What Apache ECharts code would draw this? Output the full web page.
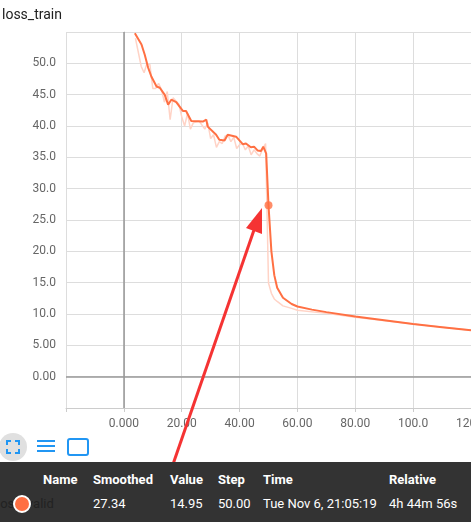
<!DOCTYPE html>
<html>
<head>
<meta charset="utf-8">
<script src="https://cdn.jsdelivr.net/npm/echarts@6/dist/echarts.min.js"></script>
<style>
  html, body { margin: 0; padding: 0; background: #fff; overflow: hidden; }
  #chart { width: 471px; height: 522px; }
  #tip { position: absolute; left: 0; top: 462px; width: 471px; height: 60px; background: #333;
         font-family: Roboto, sans-serif; font-size: 13px; color: #fff; }
  #tip span { position: absolute; }
  .h { top: 10px; font-weight: bold; }
  .v { top: 34px; }
</style>
</head>
<body>
<div id="chart"></div>
<div id="tip">
  <span class="h" style="left:43px">Name</span>
  <span class="h" style="left:93px">Smoothed</span>
  <span class="h" style="left:170px">Value</span>
  <span class="h" style="left:218px">Step</span>
  <span class="h" style="left:263px">Time</span>
  <span class="h" style="left:389px">Relative</span>
  <span class="v" style="left:-3px;color:#222">loss_valid</span>
  <span class="v" style="left:93px">27.34</span>
  <span class="v" style="left:170px">14.95</span>
  <span class="v" style="left:218px">50.00</span>
  <span class="v" style="left:263px">Tue Nov 6, 21:05:19</span>
  <span class="v" style="left:389px">4h 44m 56s</span>
  <span style="position:absolute;left:13px;top:33px;width:14px;height:14px;border-radius:50%;background:#ff7043;border:2px solid #fff"></span>
</div>
<script>
"use strict";
var smoothSteps = [3.8, 6.1, 7.2, 8.4, 9.5, 11.3, 12.4, 14.1, 15.3, 16.4, 18.1, 20.4, 21.5, 23.3, 27.3, 28.5, 29, 31.9, 33, 34.8, 35.9, 38.8, 41.1, 42.2, 43.9, 45, 46.2, 47.4, 48.2, 49.2, 50, 51, 52, 53, 55, 58, 60, 65, 70, 80, 90, 100, 110, 120];
var smoothValues = [54.8, 53, 51.4, 49.3, 47.9, 46.3, 46.1, 45, 43.4, 44.2, 43.8, 42.4, 42.4, 40.8, 40.7, 41, 39.9, 38.6, 37.8, 37.7, 38.6, 38.3, 37.1, 37.2, 36.6, 36.7, 36.1, 36.0, 36.7, 35.6, 27.34, 20, 16.2, 14.2, 12.6, 11.6, 11.2, 10.7, 10.3, 9.6, 9.0, 8.4, 7.9, 7.4];
var rawSteps = [4, 6, 7, 8, 9, 10, 11, 12, 13, 14, 15, 16, 17, 18, 19, 20, 21, 22, 23, 24, 26, 28, 29, 30, 31, 32, 33, 34, 35, 36, 37, 38, 39, 40, 41, 42, 43, 44, 45, 46, 47, 48, 49, 50, 51, 52, 53, 55, 58, 60, 70, 80, 100, 120];
var rawValues = [54, 49.5, 48.5, 50, 49.8, 46, 46, 46.8, 45.8, 43.8, 45.5, 41, 44.5, 44, 43.5, 41.5, 40, 42, 39.5, 40.5, 40.8, 39.5, 40.5, 38, 38.6, 36.6, 37.5, 37.2, 38.4, 38.5, 37.5, 38.2, 36.4, 37, 37.2, 36.2, 36.8, 35.4, 36.2, 35.6, 35.2, 36.4, 37.2, 14.95, 13.3, 12.4, 12, 11.3, 10.9, 10.6, 10.1, 9.5, 8.4, 7.4];
var markStep = 50, markValue = 27.34;

function zip(a, b) { return a.map(function (x, i) { return [x, b[i]]; }); }
function fmt(v) {
  var a = Math.abs(v);
  if (a >= 100) return v.toFixed(1);
  if (a >= 10) return v.toFixed(2);
  return v.toFixed(3);
}
function fmtY(v) {
  if (Math.abs(v) >= 10) return v.toFixed(1);
  return v.toFixed(2);
}

var chart = echarts.init(document.getElementById("chart"));
var option = {
  animation: false,
  title: { text: "loss_train", left: -3, top: 3, textStyle: { fontFamily: "Roboto", fontSize: 14, fontWeight: "normal", color: "#212121" } },
  grid: { left: 66, right: 0, top: 32, bottom: 114, containLabel: false, outerBoundsMode: "none" },
  xAxis: {
    type: "value", min: -20, max: 120, interval: 20,
    axisLine: { onZero: false, lineStyle: { color: "#ccc" } },
    axisTick: { show: true, length: 4, lineStyle: { color: "#ccc" } },
    splitLine: { lineStyle: { color: "#ddd" } },
    axisLabel: { color: "#666", fontFamily: "Roboto", fontSize: 12, margin: 10, hideOverlap: false,
      formatter: function (v) { return v === -20 ? "" : fmt(v); } }
  },
  yAxis: {
    type: "value", min: -5, max: 55, interval: 5,
    axisLine: { show: true, lineStyle: { color: "#ccc" } },
    axisTick: { show: false },
    splitLine: { lineStyle: { color: "#ddd" } },
    axisLabel: { color: "#666", fontFamily: "Roboto", fontSize: 12, margin: 10,
      formatter: function (v) { return (v < 0 || v > 50) ? "" : fmtY(v); } }
  },
  series: [
    { type: "line", data: zip(rawSteps, rawValues), showSymbol: false, silent: true,
      lineStyle: { color: "#ffd3c6", width: 1.5 } },
    { type: "line", data: zip(smoothSteps, smoothValues), showSymbol: false,
      lineStyle: { color: "#ff7043", width: 2 },
      markLine: { silent: true, symbol: "none", label: { show: false },
        lineStyle: { color: "#999", type: "solid", width: 1.5 },
        data: [{ xAxis: 0 }, { yAxis: 0 }] } },
    { type: "scatter", data: [[markStep, markValue]], symbolSize: 8, itemStyle: { color: "#ff7043" }, z: 5 }
  ],
  graphic: [
    { type: "line", shape: { x1: 152, y1: 525, x2: 254, y2: 230 }, style: { stroke: "#f53333", lineWidth: 3 }, z: 10 },
    { type: "polygon", shape: { points: [[262, 208], [246, 228], [262, 234]] }, style: { fill: "#f53333" }, z: 10 },
    { type: "circle", shape: { cx: 13, cy: 447, r: 14 }, style: { fill: "#e0e0e0" } },
    { type: "polyline", shape: { points: [[7, 445], [7, 441], [11, 441]] }, style: { stroke: "#2196f3", lineWidth: 2, fill: null } },
    { type: "polyline", shape: { points: [[15, 441], [19, 441], [19, 445]] }, style: { stroke: "#2196f3", lineWidth: 2, fill: null } },
    { type: "polyline", shape: { points: [[7, 449], [7, 453], [11, 453]] }, style: { stroke: "#2196f3", lineWidth: 2, fill: null } },
    { type: "polyline", shape: { points: [[15, 453], [19, 453], [19, 449]] }, style: { stroke: "#2196f3", lineWidth: 2, fill: null } },
    { type: "rect", shape: { x: 37, y: 440, width: 18, height: 2 }, style: { fill: "#2196f3" } },
    { type: "rect", shape: { x: 37, y: 445, width: 18, height: 2 }, style: { fill: "#2196f3" } },
    { type: "rect", shape: { x: 37, y: 450, width: 18, height: 2 }, style: { fill: "#2196f3" } },
    { type: "rect", shape: { x: 68, y: 439, width: 20, height: 16, r: 2 }, style: { fill: "none", stroke: "#2196f3", lineWidth: 2 } }
  ]
};
chart.setOption(option);
</script>
</body>
</html>
